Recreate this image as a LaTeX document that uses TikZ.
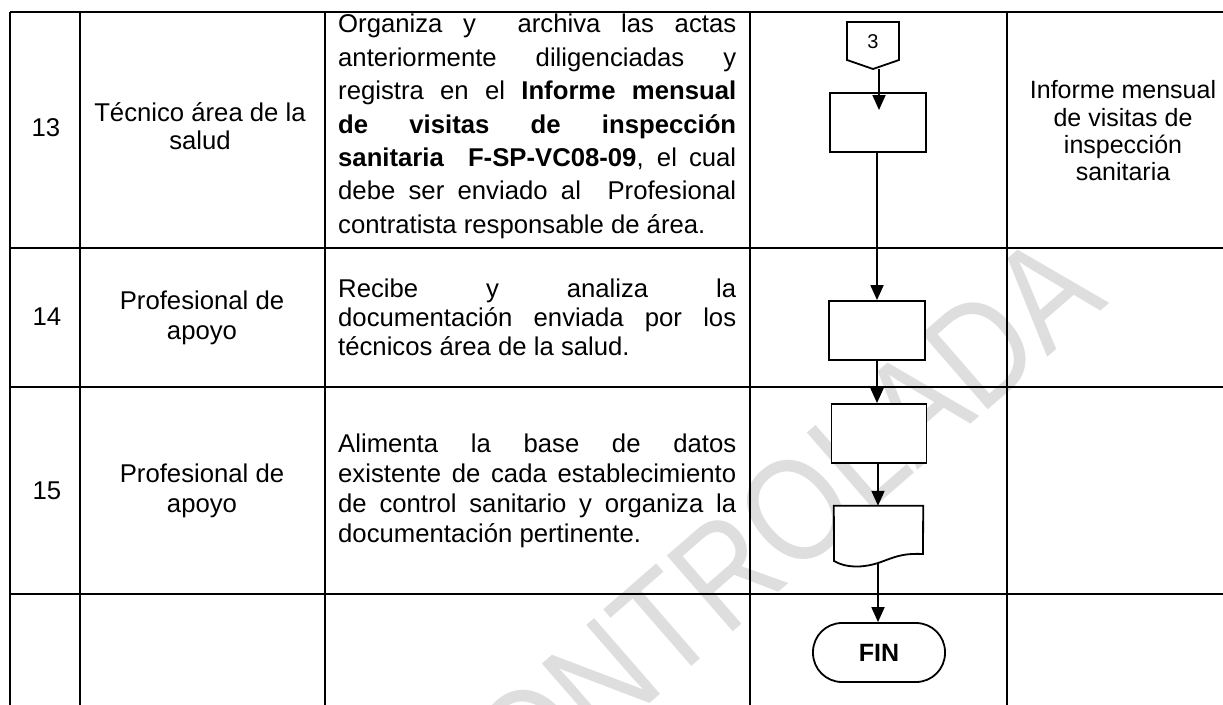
\documentclass[tikz,border=0pt]{standalone}
\usepackage{fontspec}
\setmainfont{Liberation Sans}
\usetikzlibrary{arrows.meta}
\newcommand{\fsmain}{\fontsize{25.7}{30}\selectfont}
\newcommand{\fsdesc}{\fontsize{25.7}{33.4}\selectfont}
\newcommand{\jline}[1]{\hbox to 398pt{#1}}
\newcommand{\lastline}[1]{\hbox to 398pt{#1\hfil}}
\newcommand{\cenline}[2]{\hbox to #1{\hfil#2\hfil}}
\begin{document}
\begin{tikzpicture}[x=1pt,y=-1pt,
  tbl/.style={line width=2.3pt, black},
  shp/.style={draw, line width=1.8pt, fill=white, inner sep=0},
  arr/.style={line width=1.8pt, -{Triangle[length=15pt,width=13pt]}},
  cell/.style={inner sep=0, font=\fsmain},
  desc/.style={inner sep=0, anchor=west},
  wm/.style={inner sep=0, text=black!13, font=\fontsize{146}{146}\selectfont}]
\useasboundingbox (0,0) rectangle (1223,704);
\fill[white] (0,0) rectangle (1223,704);
% watermark
\node[wm, rotate=41, anchor=center] (wmark) at (752,548) {\scalebox{0.85}[1]{CONTROLADA}};
% table grid
\foreach \yy in {12,248,387,594} \draw[tbl] (10,\yy) -- (1240,\yy);
\foreach \xx in {10,80,325,750,1007} \draw[tbl] (\xx,12) -- (\xx,720);
% column 1
\node[cell] (n13) at (46,128) {13};
\node[cell] (n14) at (47,317) {14};
\node[cell] (n15) at (47,491) {15};
% column 2
\node[cell] (r13) at (200,126) {\vbox{\fontsize{25.7}{28}\selectfont
  \cenline{230pt}{T\'ecnico \'area de la}\cenline{230pt}{salud}}};
\node[cell] (r14) at (202,318) {\vbox{\fsmain
  \cenline{230pt}{Profesional de}\cenline{230pt}{apoyo}}};
\node[cell] (r15) at (202,491) {\vbox{\fsmain
  \cenline{230pt}{Profesional de}\cenline{230pt}{apoyo}}};
% column 3
\node[inner sep=0, anchor=north west] (d13) at (338,14) {\vbox{\fsdesc
  \jline{Organiza y\ \ archiva las actas}
  \jline{anteriormente diligenciadas y}
  \jline{registra en el {\bfseries Informe mensual}}
  \jline{\bfseries de visitas de inspecci\'on}
  \jline{{\bfseries sanitaria\ \ F-SP-VC08-09}, el cual}
  \jline{debe ser enviado al\ \ Profesional}
  \lastline{contratista responsable de \'area.}}};
\node[desc] (d14) at (338,317) {\vbox{\fontsize{25.7}{29}\selectfont
  \jline{Recibe y analiza la}
  \jline{documentaci\'on enviada por los}
  \lastline{t\'ecnicos \'area de la salud.}}};
\node[desc] (d15) at (338,491) {\vbox{\fsmain
  \jline{Alimenta la base de datos}
  \jline{existente de cada establecimiento}
  \jline{de control sanitario y organiza la}
  \lastline{documentaci\'on pertinente.}}};
% column 5
\node[inner sep=0] (reg) at (1123,131) {\vbox{\fontsize{25}{27.3}\selectfont
  \cenline{210pt}{Informe mensual}\cenline{210pt}{de visitas de}
  \cenline{210pt}{inspecci\'on}\cenline{210pt}{sanitaria}}};
% flowchart
\coordinate (c3t) at (873,69);
\draw[line width=1.8pt, fill=white] (847,22) -- (899,22) -- (899,60) -- (c3t) -- (847,60) -- cycle;
\node[inner sep=0, font=\fontsize{20}{20}\selectfont] (c3) at (873,42) {3};
\node[shp, minimum width=96pt, minimum height=59pt] (b1) at (878,122.5) {};
\node[shp, minimum width=96pt, minimum height=59pt] (b2) at (877,330.5) {};
\node[shp, minimum width=95pt, minimum height=59pt] (b3) at (879,433.5) {};
\node[minimum width=89pt, minimum height=48pt, inner sep=0] (doc) at (878.5,530) {};
\draw[line width=1.8pt, fill=white] (doc.north west) -- (doc.north east) -- (923,554)
  .. controls (900,553) and (893,558) .. (878,563)
  .. controls (862,568) and (846,568) .. (834,561) -- cycle;
\coordinate (docb) at (878,563);
\node[shp, rounded corners=29pt, minimum width=132pt, minimum height=59pt,
  font=\bfseries\fontsize{25}{25}\selectfont] (fin) at (879,652.5) {FIN};
\coordinate (a1e) at (879,110);
\draw[arr] (c3t -| a1e) -- (a1e);
\draw[arr] (b1.south -| b2.north) -- (b2.north);
\draw[arr] (b2.south) -- (b2.south |- b3.north);
\draw[arr] (b3.south -| docb) -- (docb |- doc.north);
\draw[arr] (docb) -- (docb |- fin.north);
\end{tikzpicture}
\end{document}
